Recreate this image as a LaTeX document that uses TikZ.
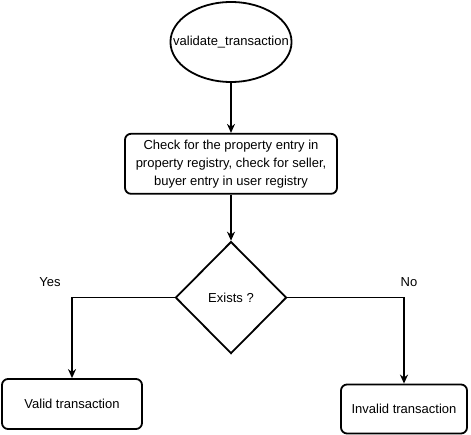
\documentclass[tikz,border=0pt]{standalone}
\usepackage{fontspec}
\setmainfont{Liberation Sans}
\usepackage{tikz}
\usetikzlibrary{arrows.meta,positioning,shapes.geometric}
\tikzset{
  startnode/.style = {ellipse, draw=black, line width=1.8pt, fill=white,
                      minimum width=121pt, minimum height=80pt, inner xsep=-15pt, inner ysep=0pt,
                      font=\fontsize{13}{16}\selectfont},
  procbox/.style   = {rectangle, draw=black, line width=1.8pt, fill=white, rounded corners=6pt,
                      minimum width=212pt, minimum height=60pt, align=center, inner sep=0pt,
                      font=\fontsize{13}{18}\selectfont},
  decision/.style  = {diamond, draw=black, line width=1.8pt, fill=white,
                      minimum width=111pt, minimum height=112pt, inner sep=0pt,
                      font=\fontsize{13}{16}\selectfont},
  endbox/.style    = {rectangle, draw=black, line width=1.8pt, fill=white, rounded corners=6pt,
                      inner sep=0pt, font=\fontsize{13}{16}\selectfont},
  flowlbl/.style   = {font=\fontsize{13}{16}\selectfont, inner sep=0pt},
  flowarrow/.style = {-{Stealth[length=9pt,width=8pt]}, line width=1.8pt},
}
\begin{document}
\begin{tikzpicture}[x=1pt, y=-1pt, node distance=50pt]
\useasboundingbox (0,0) rectangle (471,435);
\node[startnode] (start) at (231,42) {validate\_transaction};
\node[procbox, below=50pt of start.south, anchor=north] (check)
  {Check for the property entry in\\property registry, check for seller,\\buyer entry in user registry};
\node[decision, below=46pt of check.south, anchor=north] (exists) {Exists ?};
\node[endbox, minimum width=140pt, minimum height=50pt] (valid) at (72,404) {Valid transaction};
\node[endbox, minimum width=126pt, minimum height=49pt] (invalid) at (404,409) {Invalid transaction};

\draw[flowarrow] (start) -- (check);
\draw[flowarrow] (check) -- (exists);
\draw[flowarrow] (exists.west) -| (valid.north);
\draw[flowarrow] (exists.east) -| (invalid.north);

\node[flowlbl] (yes) at (50,282) {Yes};
\node[flowlbl] (no)  at (409,282) {No};
\end{tikzpicture}
\end{document}
